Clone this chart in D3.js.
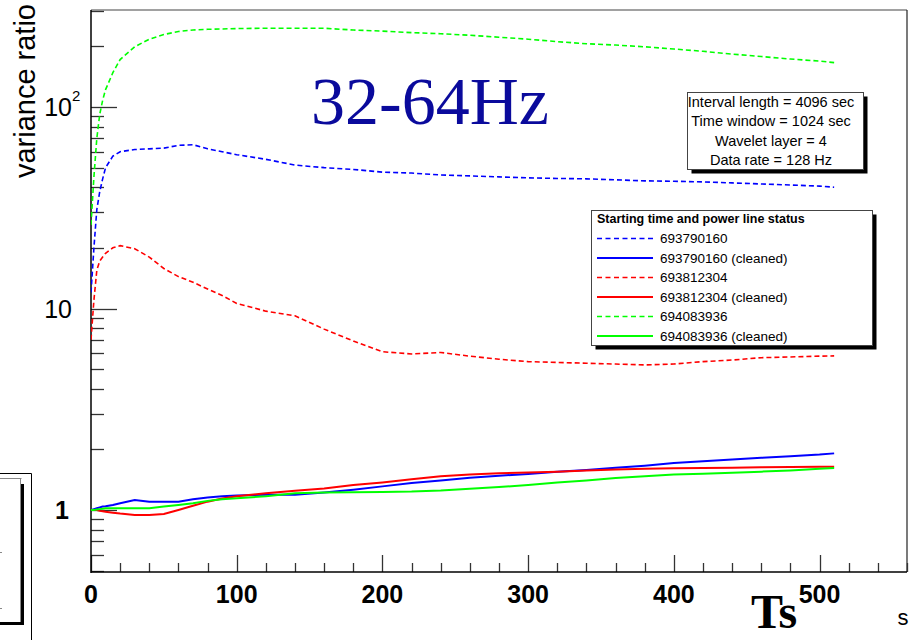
<!DOCTYPE html>
<html><head><meta charset="utf-8">
<script src="https://cdn.jsdelivr.net/npm/d3@7"></script>
<style>html,body{margin:0;padding:0;background:#fff;}svg{display:block;}</style>
</head><body>
<svg id="c" width="920" height="640"></svg>
<script>
const times = [0,2,4,6,8,10,15,20,30,40,50,60,70,80,90,100,120,140,160,180,200,220,240,260,280,300,320,340,360,380,400,420,440,460,480,500,510];
const blueRaw   = [12,20,31,38,44,50,57,60,61.5,62,62.5,64.5,65,62,60,58,55,51.5,50,49,47.5,47,46,45.5,45,44.5,44.2,44,43.5,43,42.8,42.5,42,41.5,41,40.5,40];
const blueClean = [1,1.01,1.02,1.03,1.04,1.045,1.06,1.08,1.12,1.10,1.10,1.10,1.13,1.155,1.17,1.18,1.19,1.19,1.22,1.26,1.31,1.36,1.40,1.445,1.48,1.51,1.55,1.58,1.62,1.66,1.71,1.745,1.78,1.815,1.85,1.885,1.91];
const redRaw    = [7,11,15.5,17.2,18,18.8,20,20.5,19.8,18,15.8,14.4,13.5,12.5,11.6,10.6,9.7,9.2,7.9,6.9,6.1,5.95,6.05,5.8,5.6,5.45,5.4,5.35,5.3,5.25,5.3,5.45,5.55,5.7,5.75,5.8,5.82];
const redClean  = [1,1,1,0.99,0.985,0.98,0.97,0.96,0.944,0.945,0.955,1.0,1.05,1.10,1.14,1.17,1.21,1.245,1.28,1.33,1.37,1.42,1.47,1.50,1.52,1.535,1.55,1.57,1.59,1.60,1.61,1.615,1.62,1.63,1.635,1.64,1.64];
const greenRaw  = [26,45,70,92,108,122,148,172,199,217,229,237,241,243,244,245,246,246,246,241,238,234,231,227,222,217,211,206,203,199,194,189,183,178,173,169,166];
const greenClean= [1,1,1.005,1.01,1.015,1.02,1.02,1.02,1.02,1.02,1.04,1.06,1.08,1.11,1.13,1.145,1.17,1.21,1.22,1.225,1.23,1.235,1.25,1.275,1.30,1.33,1.37,1.40,1.44,1.47,1.50,1.515,1.53,1.55,1.57,1.60,1.615];

const seriesNames = ["693790160","693790160 (cleaned)","693812304","693812304 (cleaned)","694083936","694083936 (cleaned)"];
const seriesValues = [blueRaw, blueClean, redRaw, redClean, greenRaw, greenClean];
const seriesColors = ["#0000ff","#0000ff","#ff0000","#ff0000","#00ff00","#00ff00"];
const seriesDashed = [true,false,true,false,true,false];

const xTickLabels = ["0","100","200","300","400","500"];
const infoLines = ["Interval length = 4096 sec","Time window = 1024 sec","Wavelet layer = 4","Data rate = 128 Hz"];
const legendTitle = "Starting time and power line status";

const svg = d3.select("#c");
const L = 91, R = 907, T = 10, B = 572;

const x = d3.scaleLinear().domain([0, 560]).range([L, R]);
const y0 = d3.scaleLog().domain([1, 100]).range([510, 107]);
const y = d3.scaleLog().domain([y0.invert(B), y0.invert(T)]).range([B, T]);

const FONT = "'Liberation Sans', Arial, Helvetica, sans-serif";

svg.append("defs").append("clipPath").attr("id","clip")
  .append("rect").attr("x",L).attr("y",T).attr("width",R-L).attr("height",B-T);

// frame
svg.append("line").attr("x1",L).attr("x2",R).attr("y1",T).attr("y2",T).attr("stroke","#444").attr("stroke-width",1.2);
svg.append("line").attr("x1",R).attr("x2",R).attr("y1",T).attr("y2",B).attr("stroke","#222").attr("stroke-width",1.2);

// y ticks (log)
const yTicksAll = [];
for (let dec = -1; dec <= 2; dec++) {
  for (let m = 1; m <= 9; m++) {
    const v = m * Math.pow(10, dec);
    if (v >= y.domain()[0] && v <= y.domain()[1]) yTicksAll.push(v);
  }
}
const isMajor = v => Math.abs(Math.log10(v) - Math.round(Math.log10(v))) < 1e-9;
svg.append("g").selectAll("line").data(yTicksAll).join("line")
  .attr("x1", L).attr("x2", d => L + (isMajor(d) ? 26 : 13))
  .attr("y1", d => Math.round(y(d)) + 0.5).attr("y2", d => Math.round(y(d)) + 0.5)
  .attr("stroke", "#333").attr("stroke-width", 1.3);

// x ticks
const xMinor = d3.range(0, 561, 20);
svg.append("g").selectAll("line").data(xMinor).join("line")
  .attr("x1", d => Math.round(x(d)) + 0.5).attr("x2", d => Math.round(x(d)) + 0.5)
  .attr("y1", B).attr("y2", d => B - (d % 100 === 0 ? 17 : 9))
  .attr("stroke", "#333").attr("stroke-width", 1.3);

// axes lines
svg.append("line").attr("x1",L).attr("x2",L).attr("y1",T).attr("y2",B+1).attr("stroke","#000").attr("stroke-width",1.5);
svg.append("line").attr("x1",L).attr("x2",R).attr("y1",B).attr("y2",B).attr("stroke","#000").attr("stroke-width",1.5);

// x labels
svg.append("g").selectAll("text").data(xTickLabels).join("text")
  .attr("x", d => x(+d)).attr("y", 603)
  .attr("text-anchor","middle")
  .attr("font-family", FONT).attr("font-weight","bold").attr("font-size", 25)
  .text(d => d);

// y labels
const yl = svg.append("g").attr("font-family", FONT).attr("font-size", 25);
yl.append("text").attr("x", 72).attr("y", y(100) + 9).attr("text-anchor","end").text("10");
yl.append("text").attr("x", 72).attr("y", y(100) - 6).attr("font-size", 15).text("2");
yl.append("text").attr("x", 72).attr("y", y(10) + 9).attr("text-anchor","end").text("10");
yl.append("text").attr("x", 69).attr("y", y(1) + 9).attr("text-anchor","end").attr("font-weight","bold").text("1");

// y title
svg.append("text")
  .attr("transform","translate(35,4) rotate(-90)")
  .attr("text-anchor","end")
  .attr("font-family", FONT).attr("font-size", 29)
  .text("variance ratio");

// x title
svg.append("text").attr("x", 751).attr("y", 628)
  .attr("font-family","'Liberation Serif','Times New Roman',serif").attr("font-weight","bold").attr("font-size", 48)
  .text("Ts");
svg.append("text").attr("x", 903).attr("y", 625).attr("text-anchor","middle")
  .attr("font-family", FONT).attr("font-size", 22).text("s");

// lines
const lineGen = d3.line().x(d => x(d[0])).y(d => y(d[1]));
const plot = svg.append("g").attr("clip-path","url(#clip)");
const order = [0,2,4,1,3,5];
order.forEach(i => {
  const pts = times.map((t, k) => [t, seriesValues[i][k]]);
  plot.append("path").datum(pts)
    .attr("d", lineGen)
    .attr("fill","none")
    .attr("stroke", seriesColors[i])
    .attr("stroke-width", seriesDashed[i] ? 1.6 : 2)
    .attr("stroke-dasharray", seriesDashed[i] ? "5,3" : null);
});

// title
svg.append("text").attr("x", 311).attr("y", 124)
  .attr("font-family","'Liberation Serif','Times New Roman',serif").attr("font-size", 68)
  .attr("fill","#0a0a9c").text("32-64Hz");

function shadowBox(x0, y0, w, h) {
  svg.append("rect").attr("x", x0 + 4).attr("y", y0 + 4).attr("width", w).attr("height", h).attr("fill","#000");
  svg.append("rect").attr("x", x0).attr("y", y0).attr("width", w).attr("height", h)
    .attr("fill","#fff").attr("stroke","#444").attr("stroke-width",1);
}
// info box
shadowBox(687.5, 92.5, 176, 77);
svg.append("g").selectAll("text").data(infoLines).join("text")
  .attr("x", 771).attr("y", (d, i) => 107 + i * 19.3)
  .attr("text-anchor","middle")
  .attr("font-family", FONT).attr("font-size", 14.5)
  .text(d => d);

// legend
shadowBox(591.5, 210.5, 281, 135);
svg.append("text").attr("x", 597).attr("y", 223)
  .attr("font-family", FONT).attr("font-size", 12.5).attr("font-weight","bold")
  .text(legendTitle);
const lg = svg.append("g").selectAll("g").data(seriesNames).join("g")
  .attr("transform", (d, i) => `translate(0,${238.5 + i * 19.5})`);
lg.append("line").attr("x1", 597).attr("x2", 653).attr("y1", 0).attr("y2", 0)
  .attr("stroke", (d, i) => seriesColors[i]).attr("stroke-width", (d,i) => seriesDashed[i] ? 1.6 : 2)
  .attr("stroke-dasharray", (d, i) => seriesDashed[i] ? "5,3.5" : null);
lg.append("text").attr("x", 660).attr("y", 4.5)
  .attr("font-family", FONT).attr("font-size", 13.5)
  .text(d => d);

// bottom-left remnant pad decoration
const deco = svg.append("g");
deco.append("line").attr("x1",0).attr("x2",31.5).attr("y1",473.5).attr("y2",473.5).attr("stroke","#000");
deco.append("line").attr("x1",31.5).attr("x2",31.5).attr("y1",473.5).attr("y2",640).attr("stroke","#000");
deco.append("line").attr("x1",0).attr("x2",21.5).attr("y1",478.5).attr("y2",478.5).attr("stroke","#888");
deco.append("line").attr("x1",20.5).attr("x2",20.5).attr("y1",478.5).attr("y2",622).attr("stroke","#888");
deco.append("rect").attr("x",21).attr("y",484).attr("width",3).attr("height",141).attr("fill","#000");
deco.append("rect").attr("x",0).attr("y",622).attr("width",24).attr("height",3).attr("fill","#000");
deco.append("line").attr("x1",0).attr("x2",2).attr("y1",552.5).attr("y2",552.5).attr("stroke","#888");
deco.append("line").attr("x1",0).attr("x2",2).attr("y1",608.5).attr("y2",608.5).attr("stroke","#888");
</script>
</body></html>
